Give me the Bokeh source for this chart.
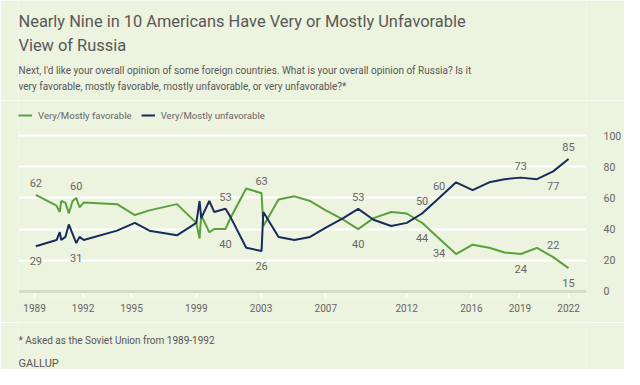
from bokeh.plotting import figure
from bokeh.layouts import column
from bokeh.models import (ColumnDataSource, Range1d, LinearAxis, FixedTicker,
                          Legend, LegendItem, Span, Grid)
from bokeh.embed import file_html
from bokeh.resources import INLINE
from bokeh.core.properties import value

# ---------------- data ----------------
years = [1989.08, 1990.36, 1990.56, 1990.65, 1990.91, 1991.12, 1991.35, 1991.58, 1991.78,
         1992.04, 1994.1, 1995.2, 1996.1, 1997.8, 1999.0, 1999.2, 1999.3, 1999.8, 2000.1,
         2000.8, 2001.1, 2002.08, 2003.03, 2003.14, 2004.08, 2005.06, 2006.03, 2007.0,
         2008.08, 2009.0, 2009.95, 2011.04, 2012.0, 2012.95, 2014.0, 2015.05, 2016.07,
         2017.1, 2018.05, 2019.05, 2020.05, 2021.05, 2022.0]
favorable = [62, 55, 51, 58, 57, 50, 58, 60, 54, 57, 56, 49, 52, 56, 44, 34, 49, 38, 40,
             40, 47, 66, 63, 42, 59, 61, 58, 52, 46, 40, 47, 51, 50, 44, 34, 24, 30,
             28, 25, 24, 28, 22, 15]
unfavorable = [29, 33, 38, 33, 35, 43, 37, 31, 35, 33, 39, 44, 39, 36, 44, 58, 47, 58, 51,
               53, 48, 28, 26, 51, 35, 33, 35, 41, 47, 53, 46, 42, 44, 50, 60, 70, 65,
               70, 72, 73, 72, 77, 85]

x_ticks = [1989, 1992, 1995, 1999, 2003, 2007, 2012, 2016, 2019, 2022]
y_ticks = [0, 20, 40, 60, 80, 100]

fav_label_idx = [0, 7, 19, 22, 29, 33, 34, 39, 41, 42]
fav_label_side = ["above", "above", "below", "above", "below", "below", "below", "below", "above", "below"]
unfav_label_idx = [0, 7, 19, 22, 29, 33, 34, 39, 41, 42]
unfav_label_side = ["below", "below", "above", "below", "above", "above", "above", "above", "below", "above"]

series_names = ["Very/Mostly favorable", "Very/Mostly unfavorable"]
title_lines = ["Nearly Nine in 10 Americans Have Very or Mostly Unfavorable", "View of Russia"]
subtitle_lines = ["Next, I'd like your overall opinion of some foreign countries. What is your overall opinion of Russia? Is it",
                  "very favorable, mostly favorable, mostly unfavorable, or very unfavorable?*"]
footnote = "* Asked as the Soviet Union from 1989-1992"
source_text = "GALLUP"

# ---------------- style ----------------
BG = "#ecf3de"
GREEN = "#5ba03c"
NAVY = "#172c5c"
GRAY = "#666666"
TITLE_GRAY = "#585858"
FONT = "Roboto"
W = 624
LEFT, RIGHT = 18, 29          # frame borders shared by all stacked figures
HEAD_H, MAIN_H, FOOT_H = 100, 222, 47


def text_panel(height, items):
    # frames of stacked figures are aligned, so this panel's frame spans LEFT..W-RIGHT
    f = figure(width=W, height=height, output_backend="svg", toolbar_location=None,
               x_range=Range1d(LEFT, W - RIGHT), y_range=Range1d(height, 0),
               x_axis_location=None, y_axis_location=None,
               min_border_left=LEFT, min_border_right=RIGHT,
               min_border_top=0, min_border_bottom=0)
    f.grid.visible = False
    f.background_fill_color = BG
    f.border_fill_color = BG
    f.outline_line_color = None
    for txt, x, y, size in items:
        f.text(x=[x], y=[y], text=[txt], text_font=value(FONT), text_font_size=size,
               text_color=TITLE_GRAY, text_baseline="middle", text_align="left")
    return f


header = text_panel(HEAD_H, [(title_lines[0], 18, 21, "16.4px"),
                             (title_lines[1], 18, 45, "16.4px"),
                             (subtitle_lines[0], 18, 70, "10px"),
                             (subtitle_lines[1], 18, 86, "10px")])

p = figure(width=W, height=MAIN_H, output_backend="svg", toolbar_location=None,
           x_range=Range1d(1988.01, 2023.11), y_range=Range1d(-3.85, 122.44),
           x_axis_location=None, y_axis_location=None,
           min_border_left=LEFT, min_border_right=RIGHT, min_border_top=0, min_border_bottom=25)
p.grid.visible = False
p.background_fill_color = BG
p.border_fill_color = BG
p.outline_line_color = None

grid = Grid(dimension=1, ticker=FixedTicker(ticks=[t for t in y_ticks if t > 0]),
            grid_line_color="white", grid_line_width=2)
p.add_layout(grid)
p.add_layout(Span(location=0, dimension="width", line_color="#d6dccb", line_width=3))

xaxis = LinearAxis(ticker=FixedTicker(ticks=x_ticks), axis_line_color=None,
                   major_tick_in=7, major_tick_out=0, major_tick_line_color="white",
                   major_tick_line_width=1.5, minor_tick_line_color=None,
                   major_label_standoff=6, major_label_text_font=FONT,
                   major_label_text_font_size="10px", major_label_text_color=GRAY)
p.add_layout(xaxis, "below")

yaxis = LinearAxis(ticker=FixedTicker(ticks=y_ticks), axis_line_color=None,
                   major_tick_line_color=None, minor_tick_line_color=None,
                   major_label_standoff=11, major_label_text_font=FONT,
                   major_label_text_font_size="10.5px", major_label_text_color=GRAY)
p.add_layout(yaxis, "right")

src = ColumnDataSource(dict(x=years, fav=favorable, unfav=unfavorable))
r_fav = p.line("x", "fav", source=src, line_color=GREEN, line_width=2)
r_unf = p.line("x", "unfav", source=src, line_color=NAVY, line_width=2)


def label_sources(vals, idxs, sides):
    up = dict(x=[], y=[], text=[])
    dn = dict(x=[], y=[], text=[])
    for idx, side in zip(idxs, sides):
        d = up if side == "above" else dn
        d["x"].append(years[idx]); d["y"].append(vals[idx]); d["text"].append(str(vals[idx]))
    return up, dn


ups, dns = [], []
for vals, idxs, sides in [(favorable, fav_label_idx, fav_label_side),
                          (unfavorable, unfav_label_idx, unfav_label_side)]:
    u, d = label_sources(vals, idxs, sides)
    ups.append(u); dns.append(d)

for group, off in [(ups, -12), (dns, 15)]:
    for d in group:
        p.text("x", "y", text="text", source=ColumnDataSource(d), y_offset=off,
               text_align="center", text_baseline="middle", text_font=value(FONT),
               text_font_size="11px", text_color=GRAY)

legend = Legend(items=[LegendItem(label=series_names[0], renderers=[r_fav]),
                       LegendItem(label=series_names[1], renderers=[r_unf])],
                orientation="horizontal", location="top_left",
                background_fill_alpha=0, border_line_alpha=0,
                glyph_width=14, glyph_height=14, label_height=30, label_standoff=6,
                spacing=9, padding=0, margin=0,
                label_text_font=FONT, label_text_font_size="9.6px", label_text_color=GRAY)
p.add_layout(legend)

footer = text_panel(FOOT_H, [(footnote, 18, 18, "10px"),
                             (source_text, 18, 41, "11px")])

layout = column(header, p, footer, spacing=0)
open("out.html", "w").write(file_html(layout, INLINE))
